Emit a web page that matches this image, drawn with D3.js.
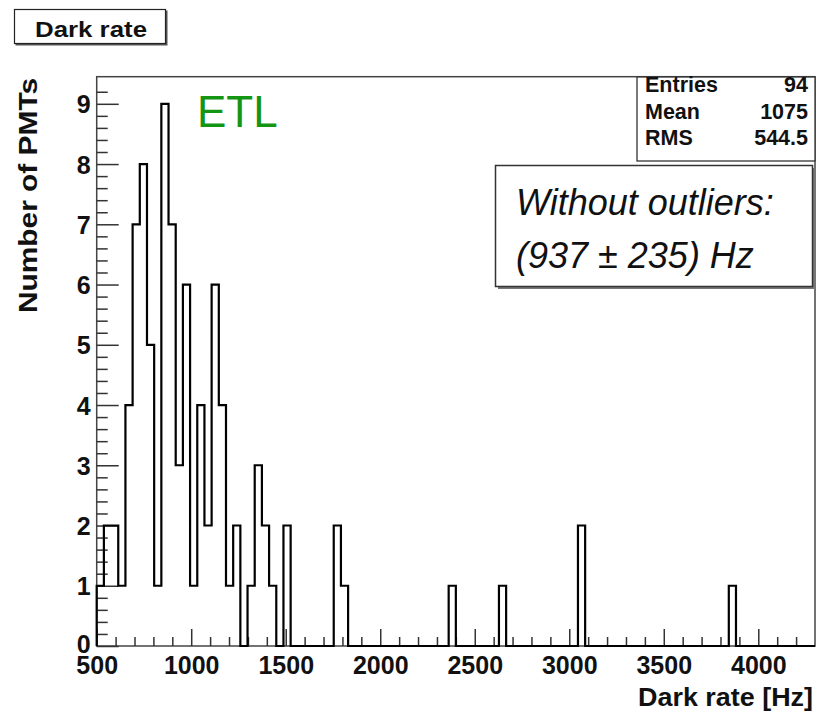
<!DOCTYPE html>
<html>
<head>
<meta charset="utf-8">
<script src="https://cdn.jsdelivr.net/npm/d3@7"></script>
<style>
  html, body { margin: 0; padding: 0; background: #fff; }
  svg { display: block; }
  text { font-family: "Liberation Sans", Arial, Helvetica, sans-serif; }
</style>
</head>
<body>
<svg id="chart" width="819" height="714"></svg>
<script>
// Histogram definition: 100 bins of 38 Hz from 500 to 4300 Hz
const xRange = [500, 4300];
const binCounts = [
  1, 2, 2, 1, 4, 7, 8, 5, 1, 9,
  7, 3, 6, 1, 4, 2, 6, 4, 1, 2,
  0, 1, 3, 2, 1, 0, 2, 0, 0, 0,
  0, 0, 0, 2, 1, 0, 0, 0, 0, 0,
  0, 0, 0, 0, 0, 0, 0, 0, 0, 1,
  0, 0, 0, 0, 0, 0, 1, 0, 0, 0,
  0, 0, 0, 0, 0, 0, 0, 2, 0, 0,
  0, 0, 0, 0, 0, 0, 0, 0, 0, 0,
  0, 0, 0, 0, 0, 0, 0, 0, 1, 0,
  0, 0, 0, 0, 0, 0, 0, 0, 0, 0
];
const yMax = 9.45;

const xMajorTicks = [500, 1000, 1500, 2000, 2500, 3000, 3500, 4000];
const yMajorTicks = [0, 1, 2, 3, 4, 5, 6, 7, 8, 9];

const statsLabels = ["Entries", "Mean", "RMS"];
const statsValues = ["94", "1075", "544.5"];

const noteLines = ["Without outliers:", "(937 \u00b1 235) Hz"];

const svg = d3.select("#chart");
const W = 819, H = 714;
const margin = { left: 96.7, right: 4, top: 76.7, bottom: 68 };

const x = d3.scaleLinear().domain(xRange).range([margin.left, W - margin.right]);
const y = d3.scaleLinear().domain([0, yMax]).range([H - margin.bottom, margin.top]);

const nBins = binCounts.length;
const binW = (xRange[1] - xRange[0]) / nBins;
const edges = d3.range(nBins + 1).map(i => xRange[0] + i * binW);

// Minor tick positions: every 100 Hz on x, every 0.2 on y
const xMinor = d3.range(600, 4300, 100).filter(v => v % 500 !== 0);
const yMinor = d3.range(0.2, 9.4, 0.2).filter(v => Math.abs(v - Math.round(v)) > 0.01);

// Frame
svg.append("rect")
  .attr("x", margin.left).attr("y", margin.top)
  .attr("width", W - margin.right - margin.left)
  .attr("height", H - margin.bottom - margin.top)
  .attr("fill", "none").attr("stroke", "#444").attr("stroke-width", 1.5);

const tickStyle = g => {
  g.select(".domain").remove();
  g.selectAll(".tick line").attr("stroke", "#333").attr("stroke-width", 1.5);
};

// X axis ticks, drawn inward
svg.append("g")
  .attr("transform", `translate(0,${y(0)})`)
  .call(d3.axisBottom(x).tickValues(xMinor).tickSize(-9).tickFormat(""))
  .call(tickStyle);

svg.append("g")
  .attr("transform", `translate(0,${y(0)})`)
  .call(d3.axisBottom(x).tickValues(xMajorTicks).tickSize(-17).tickPadding(9).tickFormat(d3.format("d")))
  .call(tickStyle)
  .call(g => g.selectAll(".tick text")
    .attr("font-family", "Liberation Sans, Arial, sans-serif")
    .attr("font-size", 25).attr("font-weight", "bold").attr("fill", "#111")
    .attr("dy", "0.71em").attr("y", 10));

// Y axis ticks, drawn inward
svg.append("g")
  .attr("transform", `translate(${x(xRange[0])},0)`)
  .call(d3.axisLeft(y).tickValues(yMinor).tickSize(-11).tickFormat(""))
  .call(tickStyle);

svg.append("g")
  .attr("transform", `translate(${x(xRange[0])},0)`)
  .call(d3.axisLeft(y).tickValues(yMajorTicks).tickSize(-22).tickPadding(6).tickFormat(d3.format("d")))
  .call(tickStyle)
  .call(g => g.selectAll(".tick text")
    .attr("font-family", "Liberation Sans, Arial, sans-serif")
    .attr("font-size", 25).attr("font-weight", "bold").attr("fill", "#111")
    .attr("x", -6).attr("dy", "0.36em"))
  // the zero label sits just above the x labels
  .call(g => g.selectAll(".tick text").filter(d => d === 0).attr("y", -3));

// Histogram outline (step function)
const pts = [[edges[0], 0]];
binCounts.forEach((c, i) => {
  pts.push([edges[i], c]);
  pts.push([edges[i + 1], c]);
});
pts.push([edges[nBins], 0]);

svg.append("path")
  .datum(pts)
  .attr("d", d3.line().x(d => x(d[0])).y(d => y(d[1])))
  .attr("fill", "none")
  .attr("stroke", "#000")
  .attr("stroke-width", 2.2)
  .attr("stroke-linejoin", "miter");

// Axis titles
svg.append("text")
  .attr("x", 813).attr("y", 706)
  .attr("text-anchor", "end")
  .attr("font-size", 26).attr("font-weight", "bold").attr("fill", "#111")
  .attr("textLength", 175).attr("lengthAdjust", "spacingAndGlyphs")
  .text("Dark rate [Hz]");

svg.append("text")
  .attr("transform", "translate(37,78) rotate(-90)")
  .attr("text-anchor", "end")
  .attr("font-size", 26).attr("font-weight", "bold").attr("fill", "#111")
  .attr("textLength", 235).attr("lengthAdjust", "spacingAndGlyphs")
  .text("Number of PMTs");

// Title box
svg.append("rect")
  .attr("x", 15.5).attr("y", 10.5).attr("width", 152).attr("height", 35)
  .attr("fill", "#555");
svg.append("rect")
  .attr("x", 14.5).attr("y", 9.5).attr("width", 151).attr("height", 34)
  .attr("fill", "#fff").attr("stroke", "#222").attr("stroke-width", 1.2);
svg.append("text")
  .attr("x", 35).attr("y", 36.5)
  .attr("font-size", 22).attr("font-weight", "bold").attr("fill", "#111")
  .attr("textLength", 112).attr("lengthAdjust", "spacingAndGlyphs")
  .text("Dark rate");

// Detector label
svg.append("text")
  .attr("x", 197).attr("y", 126.5)
  .attr("font-size", 44).attr("fill", "#149614")
  .text("ETL");

// Statistics box
svg.append("rect")
  .attr("x", 637).attr("y", 77).attr("width", 178).attr("height", 84)
  .attr("fill", "#fff").attr("stroke", "#333").attr("stroke-width", 1.3);
const statsRowY = [92, 118.5, 145];
statsLabels.forEach((lab, i) => {
  svg.append("text")
    .attr("x", 645).attr("y", statsRowY[i])
    .attr("font-size", 21.5).attr("font-weight", "bold").attr("fill", "#111")
    .text(lab);
  svg.append("text")
    .attr("x", 808).attr("y", statsRowY[i])
    .attr("text-anchor", "end")
    .attr("font-size", 21.5).attr("font-weight", "bold").attr("fill", "#111")
    .text(statsValues[i]);
});

// Note box with shadow
svg.append("rect")
  .attr("x", 498).attr("y", 168).attr("width", 318).attr("height", 121)
  .attr("fill", "#777");
svg.append("rect")
  .attr("x", 495.5).attr("y", 165.5).attr("width", 317).attr("height", 121)
  .attr("fill", "#fff").attr("stroke", "#333").attr("stroke-width", 1.5);
const noteY = [215, 268];
noteLines.forEach((t, i) => {
  svg.append("text")
    .attr("x", 516).attr("y", noteY[i])
    .attr("font-size", 36).attr("font-style", "italic").attr("fill", "#111")
    .text(t);
});
</script>
</body>
</html>
